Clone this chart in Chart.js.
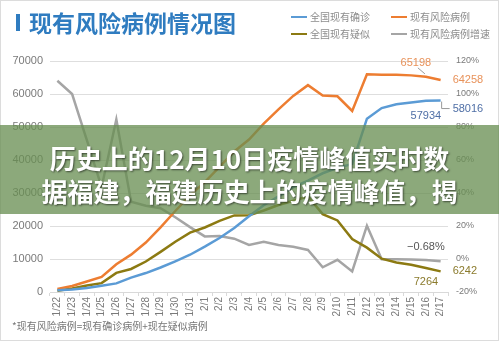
<!DOCTYPE html>
<html>
<head>
<meta charset="utf-8">
<script src="https://cdn.jsdelivr.net/npm/chart.js@4.4.1/dist/chart.umd.min.js"></script>
<style>
    html, body { margin: 0; padding: 0; background: #fff; }
    #wrap { position: relative; width: 499px; height: 341px; overflow: hidden; font-family: "Liberation Sans", "Noto Sans CJK SC", sans-serif; }
    #frame { position: absolute; left: 0; top: 0; width: 497px; height: 339px; border: 1px solid #dcdcdc; }
    canvas { position: absolute; left: 0; top: 0; }
    #titleBar { position: absolute; left: 16px; top: 14px; width: 4px; height: 17px; background: #2f7cc0; }
    #title { position: absolute; left: 29px; top: 8px; font: bold 23px "Noto Sans CJK SC", sans-serif; color: #2f7cc0; line-height: 28px; white-space: nowrap; }
    .lg { position: absolute; font: 10px "Noto Sans CJK SC", sans-serif; color: #8c8c8c; line-height: 12px; white-space: nowrap; }
    .lg i { display: inline-block; width: 16px; height: 2px; vertical-align: middle; margin-right: 3px; position: relative; top: -1px; }
    #band { position: absolute; left: 0; top: 125px; width: 499px; height: 89px; background: rgba(104,142,82,0.76); }
    #bandText { position: absolute; left: 0; top: 141px; width: 499px; text-align: center; font: bold 26px "Noto Sans CJK SC", sans-serif; line-height: 33px; color: #fff; text-shadow: 1px 1px 2px rgba(0,0,0,0.55); white-space: nowrap; }
    #note { position: absolute; left: 12px; top: 318px; font: 10px "Noto Sans CJK SC", sans-serif; color: #777; white-space: nowrap; }
</style>
</head>
<body>
<div id="wrap">
    <div id="frame"></div>
    <canvas id="riskChart" width="499" height="341"></canvas>
    <div id="titleBar"></div>
    <div id="title">现有风险病例情况图</div>
    <div class="lg" style="left:291px; top:11px;"><i style="background:#5b9bd5"></i>全国现有确诊</div>
    <div class="lg" style="left:391px; top:11px;"><i style="background:#ed7d31"></i>现有风险病例</div>
    <div class="lg" style="left:291px; top:28px;"><i style="background:#8c7a12"></i>全国现有疑似</div>
    <div class="lg" style="left:391px; top:28px;"><i style="background:#a5a5a5"></i>现有风险病例增速</div>
    <div id="band"></div>
    <div id="bandText">历史上的12月10日疫情峰值实时数<br>据福建，福建历史上的疫情峰值，揭</div>
    <div id="note">*现有风险病例=现有确诊病例+现在疑似病例</div>
</div>
<script>
document.addEventListener('DOMContentLoaded', function() {
    // Dates on the x axis
    const dates = ['1/22', '1/23', '1/24', '1/25', '1/26', '1/27', '1/28', '1/29', '1/30', '1/31',
        '2/1', '2/2', '2/3', '2/4', '2/5', '2/6', '2/7', '2/8', '2/9', '2/10',
        '2/11', '2/12', '2/13', '2/14', '2/15', '2/16', '2/17'];

    // 全国现有确诊
    const confirmed = [549, 771, 1208, 1870, 2613, 4349, 5739, 7417, 9308, 11289,
        13748, 16369, 19381, 22942, 26302, 28985, 31774, 33738, 35982, 37626,
        38800, 52526, 55748, 56873, 57416, 57934, 58016];

    // 全国现有疑似
    const suspected = [393, 1072, 1965, 2684, 5794, 6973, 9239, 12167, 15238, 17988,
        19544, 21558, 23214, 23260, 24702, 26359, 27657, 28942, 23589, 21675,
        16067, 13435, 10109, 8969, 8228, 7264, 6242];

    // 现有风险病例
    const riskCases = [942, 1843, 3173, 4554, 8407, 11322, 14978, 19584, 24546, 29277,
        33292, 37927, 42595, 46202, 51004, 55344, 59431, 62680, 59571, 59301,
        54867, 65961, 65857, 65842, 65644, 65198, 64258];

    // 现有风险病例增速 (%)
    const riskGrowth = [108, 100, 72, 43.5, 84.6, 34.7, 32.3, 30.8, 25.3, 19.3,
        13.7, 13.9, 12.3, 8.5, 10.4, 8.5, 7.4, 5.5, -5.0, -0.5,
        -7.5, 20.2, -0.2, -0.1, -0.3, -0.68, -1.4];

    // Left and right tick ranges
    const leftTicks = { min: 0, max: 70000, step: 10000 };
    const rightTicks = { min: -20, max: 120, step: 20 };

    // Which points get a value label: dataset index, point index, placement
    const valueLabels = [
        { ds: 1, idx: 25, dx: -10, dy: -14, color: '#e8925a', leader: true },
        { ds: 1, idx: 26, dx: 12, dy: 0, color: '#e8925a', align: 'left' },
        { ds: 0, idx: 25, dx: 0, dy: 15, color: '#4f6fa6' },
        { ds: 0, idx: 26, dx: 12, dy: 8, color: '#4f6fa6', align: 'left', bracket: true },
        { ds: 3, idx: 25, dx: 0, dy: -13, color: '#555555', pct: true },
        { ds: 2, idx: 26, dx: 12, dy: 0, color: '#8b7b2d', align: 'left' },
        { ds: 2, idx: 25, dx: 0, dy: 14, color: '#8b7b2d' }
    ];

    const labelPlugin = {
        id: 'valueLabels',
        afterDatasetsDraw: function(chart) {
            const ctx = chart.ctx;
            ctx.save();
            ctx.font = '11px "Liberation Sans", sans-serif';
            ctx.textBaseline = 'middle';
            valueLabels.forEach(function(l) {
                const pt = chart.getDatasetMeta(l.ds).data[l.idx];
                const v = chart.data.datasets[l.ds].data[l.idx];
                const text = l.pct ? (v.toFixed(2).replace('-', '\u2212') + '%') : String(v);
                const x = pt.x + l.dx;
                const y = pt.y + l.dy;
                ctx.fillStyle = l.color;
                ctx.textAlign = l.align || 'center';
                ctx.fillText(text, x, y);
                if (l.leader) {
                    ctx.strokeStyle = '#999';
                    ctx.lineWidth = 1;
                    ctx.beginPath();
                    ctx.moveTo(x + 2, y + 5);
                    ctx.lineTo(pt.x - 1, pt.y - 3);
                    ctx.stroke();
                }
                if (l.bracket) {
                    ctx.strokeStyle = '#999';
                    ctx.lineWidth = 1;
                    ctx.beginPath();
                    ctx.moveTo(pt.x + 1, pt.y + 1);
                    ctx.lineTo(pt.x + 1, y);
                    ctx.lineTo(x - 3, y);
                    ctx.stroke();
                }
            });
            ctx.restore();
        }
    };

    const ctxRisk = document.getElementById('riskChart').getContext('2d');
    const riskChart = new Chart(ctxRisk, {
        type: 'line',
        data: {
            labels: dates,
            datasets: [{
                label: '全国现有确诊',
                data: confirmed,
                borderColor: '#5b9bd5',
                yAxisID: 'y'
            }, {
                label: '现有风险病例',
                data: riskCases,
                borderColor: '#ed7d31',
                yAxisID: 'y'
            }, {
                label: '全国现有疑似',
                data: suspected,
                borderColor: '#8c7a12',
                yAxisID: 'y'
            }, {
                label: '现有风险病例增速',
                data: riskGrowth,
                borderColor: '#a5a5a5',
                yAxisID: 'y1'
            }]
        },
        options: {
            responsive: false,
            animation: false,
            elements: {
                line: { borderWidth: 2.5, tension: 0, fill: false },
                point: { radius: 0 }
            },
            layout: {
                padding: { top: 61, left: 0, right: 0, bottom: 0 }
            },
            scales: {
                x: {
                    offset: true,
                    grid: {
                        offset: true,
                        drawOnChartArea: false,
                        color: '#d9d9d9',
                        tickLength: 4
                    },
                    border: { color: '#d9d9d9' },
                    ticks: {
                        autoSkip: false,
                        minRotation: 90,
                        maxRotation: 90,
                        padding: 1,
                        color: '#7a7a7a',
                        font: { size: 10, family: '"Liberation Sans", sans-serif' }
                    },
                    afterFit: function(scale) { scale.height = 49; }
                },
                y: {
                    position: 'left',
                    min: leftTicks.min,
                    max: leftTicks.max,
                    ticks: {
                        stepSize: leftTicks.step,
                        padding: 7,
                        color: '#7a7a7a',
                        font: { size: 11, family: '"Liberation Sans", sans-serif' },
                        callback: function(value) { return String(value); }
                    },
                    grid: { color: '#dedede', drawTicks: false },
                    border: { display: false },
                    afterFit: function(scale) { scale.width = 50; }
                },
                y1: {
                    position: 'right',
                    min: rightTicks.min,
                    max: rightTicks.max,
                    ticks: {
                        stepSize: rightTicks.step,
                        padding: 8,
                        color: '#7a7a7a',
                        font: { size: 9, family: '"Liberation Sans", sans-serif' },
                        callback: function(value) { return value + '%'; }
                    },
                    grid: { display: false, drawTicks: false },
                    border: { display: false },
                    afterFit: function(scale) { scale.width = 51; }
                }
            },
            plugins: {
                legend: { display: false },
                tooltip: { enabled: false }
            }
        },
        plugins: [labelPlugin]
    });
});
</script>
</body>
</html>
